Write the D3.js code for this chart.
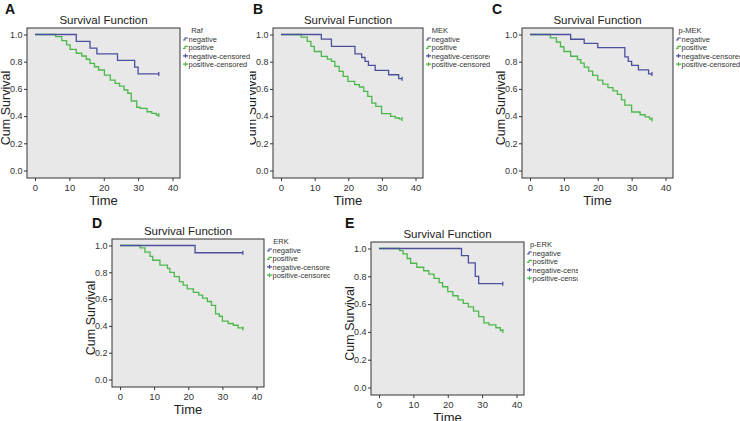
<!DOCTYPE html>
<html><head><meta charset="utf-8">
<script src="https://cdn.jsdelivr.net/npm/d3@7"></script>
<style>
html,body{margin:0;padding:0;background:#fff;}
svg{display:block;font-family:"Liberation Sans",Arial,sans-serif;}
</style></head>
<body>
<svg id="chart" width="740" height="421"></svg>
<script>
// ---------- data ----------
const panelLetters = ["A","B","C","D","E"];
const markers = ["Raf","MEK","p-MEK","ERK","p-ERK"];
const legendLabels = ["negative","positive","negative-censored","positive-censored"];
const chartTitle = "Survival Function";
const xLabel = "Time";
const yLabel = "Cum Survival";
const xTicks = [0,10,20,30,40];
const yTicks = [0.0,0.2,0.4,0.6,0.8,1.0];

const rafNegTimes = [0,12,16,18,24,29,30,36];
const rafNegSurv  = [1,0.95,0.90,0.857,0.81,0.76,0.71,0.71];
const rafPosTimes = [0,6,7.8,9.2,10.2,12,13.6,14.9,16,17.3,18.5,20.2,21.9,23.3,24.6,25.9,27,28,29.6,30.6,32.6,34,35.3,36];
const rafPosSurv  = [1,0.984,0.955,0.923,0.891,0.862,0.842,0.818,0.788,0.763,0.739,0.702,0.665,0.641,0.621,0.592,0.568,0.511,0.465,0.457,0.432,0.42,0.408,0.408];

const mekNegTimes = [0,12,15,22,24,25,26,28,32,35,36];
const mekNegSurv  = [1,0.966,0.912,0.858,0.831,0.802,0.773,0.736,0.704,0.675,0.675];
const mekPosTimes = [0,6,7.8,8.9,9.9,12,13.8,15,16,17.3,18.5,19.9,21.9,23.3,24.6,25.8,27,28.2,29.9,32.6,34,35.2,36];
const mekPosSurv  = [1,0.98,0.949,0.912,0.875,0.839,0.819,0.802,0.765,0.729,0.692,0.655,0.631,0.614,0.582,0.545,0.496,0.472,0.418,0.398,0.386,0.379,0.379];

const pmekNegTimes = [0,12,16,20,28,29,30,32,35,36];
const pmekNegSurv  = [1,0.965,0.935,0.903,0.835,0.803,0.773,0.74,0.71,0.71];
const pmekPosTimes = [0,6,7.8,9,10,12,14,15,16,17.3,18.5,20,21.5,23,24.5,25.8,27,28,30,32.5,34,35.3,36];
const pmekPosSurv  = [1,0.975,0.945,0.91,0.875,0.84,0.815,0.79,0.76,0.73,0.70,0.665,0.635,0.61,0.585,0.56,0.52,0.48,0.43,0.41,0.395,0.38,0.375];

const erkNegTimes = [0,22,36];
const erkNegSurv  = [1,0.946,0.946];
const erkPosTimes = [0,5.9,7.3,8.8,9.6,11.7,13.9,14.6,15.9,17.4,18.5,19.7,21.5,23.1,24.2,25.6,26.8,28,29.1,30,31.7,33.2,34.6,36];
const erkPosSurv  = [1,0.983,0.95,0.919,0.89,0.853,0.83,0.80,0.767,0.73,0.705,0.676,0.65,0.63,0.607,0.582,0.553,0.49,0.472,0.435,0.418,0.405,0.386,0.38];

const perkNegTimes = [0,24,26,28,29,36];
const perkNegSurv  = [1,0.949,0.896,0.80,0.747,0.747];
const perkPosTimes = [0,6,7,8.2,9.2,11,13,14.5,16,17.5,18.5,20,21.5,23,24.5,26,27.5,29,30.5,32,34,35.3,36];
const perkPosSurv  = [1,0.985,0.962,0.928,0.894,0.865,0.84,0.815,0.785,0.755,0.725,0.69,0.66,0.63,0.605,0.58,0.55,0.51,0.465,0.45,0.43,0.41,0.407];

const negTimes = [rafNegTimes, mekNegTimes, pmekNegTimes, erkNegTimes, perkNegTimes];
const negSurv  = [rafNegSurv, mekNegSurv, pmekNegSurv, erkNegSurv, perkNegSurv];
const posTimes = [rafPosTimes, mekPosTimes, pmekPosTimes, erkPosTimes, perkPosTimes];
const posSurv  = [rafPosSurv, mekPosSurv, pmekPosSurv, erkPosSurv, perkPosSurv];

// ---------- layout ----------
const layout = [
  {box:{l:27,t:28,r:180,b:178}, letter:[5,14], clip:[0,0,252,205]},
  {box:{l:273,t:28,r:423,b:178}, letter:[253,14], clip:[250,0,240,205]},
  {box:{l:522,t:28,r:673,b:178}, letter:[492,14], clip:[490,0,250,205]},
  {box:{l:112,t:239,r:264,b:387}, letter:[92,228], clip:[80,205,250,216]},
  {box:{l:371,t:242,r:524,b:395}, letter:[345,228], clip:[330,205,248,216]}
];
const negColor = "#4b4f9c";
const posColor = "#4cb84c";
const bgColor = "#e8e8e8";
const font = '"Liberation Sans",Arial,sans-serif';

const svg = d3.select("#chart");
const defs = svg.append("defs");

layout.forEach((L, i) => {
  const b = L.box;
  defs.append("clipPath").attr("id","clip"+i)
    .append("rect").attr("x",L.clip[0]).attr("y",L.clip[1]).attr("width",L.clip[2]).attr("height",L.clip[3]);
  const g = svg.append("g").attr("clip-path","url(#clip"+i+")");
  g.append("rect").attr("x",L.clip[0]).attr("y",L.clip[1]).attr("width",L.clip[2]).attr("height",L.clip[3]).attr("fill","#fff");

  const x = d3.scaleLinear().domain([0,40]).range([b.l+8, b.r-7.5]);
  const y = d3.scaleLinear().domain([0,1]).range([b.b-7.5, b.t+6.5]);

  // panel letter
  g.append("text").attr("x",L.letter[0]).attr("y",L.letter[1])
    .attr("font-size",14).attr("font-weight","bold").attr("fill","#111").text(panelLetters[i]);

  // title
  g.append("text").attr("x",(b.l+b.r)/2).attr("y",b.t-4).attr("text-anchor","middle")
    .attr("font-size",11.5).attr("fill","#222").text(chartTitle);

  // plot box
  g.append("rect").attr("x",b.l).attr("y",b.t).attr("width",b.r-b.l).attr("height",b.b-b.t)
    .attr("fill",bgColor).attr("stroke","#333").attr("stroke-width",1);

  // axes
  const xAxis = d3.axisBottom(x).tickValues(xTicks).tickSize(3).tickPadding(3).tickFormat(d3.format("d"));
  const gx = g.append("g").attr("transform",`translate(0,${b.b})`).call(xAxis);
  gx.select(".domain").remove();
  gx.selectAll("text").attr("font-size",9.5).attr("fill","#333").attr("font-family",font);
  gx.selectAll("line").attr("stroke","#333");

  const yAxis = d3.axisLeft(y).tickValues(yTicks).tickSize(3).tickPadding(1.5).tickFormat(d3.format(".1f"));
  const gy = g.append("g").attr("transform",`translate(${b.l},0)`).call(yAxis);
  gy.select(".domain").remove();
  gy.selectAll("text").attr("font-size",9).attr("fill","#333").attr("font-family",font);
  gy.selectAll("line").attr("stroke","#333");

  // axis labels
  g.append("text").attr("x",(b.l+b.r)/2).attr("y",b.b+27).attr("text-anchor","middle")
    .attr("font-size",13).attr("fill","#222").text(xLabel);
  g.append("text").attr("transform",`translate(${b.l-17.5},${(b.t+b.b)/2+5}) rotate(-90)`)
    .attr("text-anchor","middle").attr("font-size",12.5).attr("fill","#222").text(yLabel);

  // curves
  const line = d3.line().x(d=>x(d[0])).y(d=>y(d[1])).curve(d3.curveStepAfter);
  const neg = negTimes[i].map((t,k)=>[t,negSurv[i][k]]);
  const pos = posTimes[i].map((t,k)=>[t,posSurv[i][k]]);
  [[pos,posColor],[neg,negColor]].forEach(([pts,col])=>{
    g.append("path").datum(pts).attr("d",line).attr("fill","none")
      .attr("stroke",col).attr("stroke-width",1.3);
    const last = pts[pts.length-1];
    g.append("line").attr("x1",x(last[0])).attr("x2",x(last[0]))
      .attr("y1",y(last[1])-2).attr("y2",y(last[1])+2).attr("stroke",col).attr("stroke-width",1.3);
  });

  // legend
  const lx = b.r + 3;
  const ly = b.t;
  g.append("text").attr("x",lx+14).attr("y",ly+5).attr("text-anchor","middle")
    .attr("font-size",7.5).attr("fill","#333").text(markers[i]);
  legendLabels.forEach((lab,k)=>{
    const yy = ly + 11 + k*8.4;
    const col = k%2===0 ? negColor : posColor;
    if (k<2) {
      g.append("path").attr("d",`M${lx},${yy+1}H${lx+2}V${yy-1}H${lx+5}`)
        .attr("fill","none").attr("stroke",col).attr("stroke-width",1.2);
    } else {
      g.append("path").attr("d",`M${lx},${yy}H${lx+5}M${lx+2.5},${yy-2}V${yy+2}`)
        .attr("fill","none").attr("stroke",col).attr("stroke-width",1.2);
    }
    g.append("text").attr("x",lx+5.5).attr("y",yy+2.8).attr("font-size",7.5).attr("fill","#333").text(lab);
  });
});
</script>
</body></html>
